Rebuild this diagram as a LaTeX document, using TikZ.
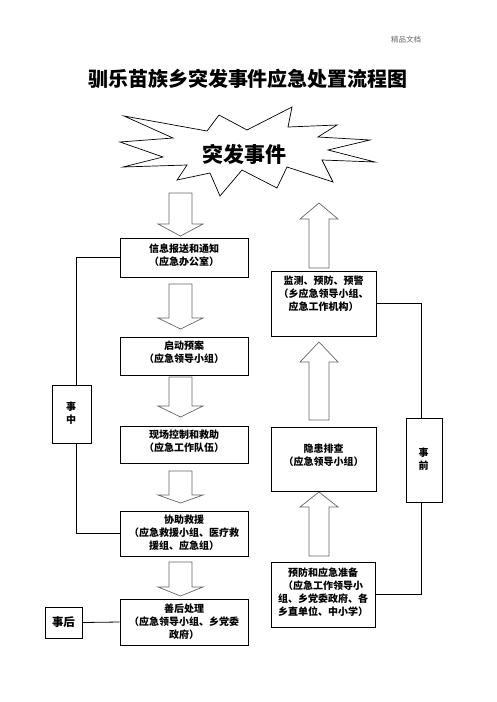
\documentclass[tikz,border=0pt]{standalone}
\usepackage{fontspec}
\newfontfamily\cjk{Noto Sans CJK SC}
\newcommand\dnarr[3]{\draw[barrow] (169,#1) -- (192,#1) -- (192,#2) -- (203,#2) -- (180.5,#3) -- (158,#2) -- (169,#2) -- cycle;}
\newcommand\uparr[3]{\draw[barrow] (309,#1) -- (329,#1) -- (329,#2) -- (338,#2) -- (319,#3) -- (300,#2) -- (309,#2) -- cycle;}
\begin{document}
\begin{tikzpicture}[x=1pt,y=-1pt,
  box/.style={draw, line width=0.8pt, inner sep=0pt},
  txt/.style={font=\cjk\bfseries\fontsize{10}{13}\selectfont, align=center, inner sep=0pt},
  barrow/.style={draw=black!60, line width=0.7pt, fill=white},
  conn/.style={draw, line width=0.8pt}]
\useasboundingbox (0,0) rectangle (496,702);
% header and title
\node[font=\cjk\fontsize{7.5}{9}\selectfont, text=black!60, inner sep=0pt] (hdr) at (406,40) {精品文档};
\node[font=\cjk\bfseries\fontsize{20}{24}\selectfont, inner sep=0pt] (title) at (248,79) {驯乐苗族乡突发事件应急处置流程图};
% starburst
\draw[line width=0.7pt, fill=white] (124,116) -- (207,131) -- (219,115) -- (247,130) -- (292,107) -- (288,127) -- (337,125) -- (318,137) -- (370,140) -- (328,150) -- (375,162) -- (322,160) -- (333,182) -- (287,167) -- (277,188) -- (242,170) -- (220,196) -- (210,173) -- (177,180) -- (187,165) -- (123,167) -- (163,157) -- (120,142) -- (173,138) -- cycle;
\node[font=\cjk\bfseries\fontsize{21}{24}\selectfont, inner sep=0pt] (ev) at (244,154) {突发事件};
% left boxes
\node[box, minimum width=128pt, minimum height=39pt] (b1) at (184,257.5) {};
\node[box, minimum width=128pt, minimum height=38pt] (b2) at (184,356) {};
\node[box, minimum width=128pt, minimum height=37pt] (b3) at (184,444.5) {};
\node[box, minimum width=128pt, minimum height=45pt] (b4) at (184,533.5) {};
\node[box, minimum width=128pt, minimum height=46pt] (b5) at (184,622) {};
\node[txt] (t1) at (184,255) {信息报送和通知\\（应急办公室）};
\node[txt] (t2) at (184,352.5) {启动预案\\（应急领导小组）};
\node[txt] (t3) at (184,441.5) {现场控制和救助\\（应急工作队伍）};
\node[txt] (t4) at (184,533) {协助救援\\（应急救援小组、医疗救\\援组、应急组）};
\node[txt] (t5) at (184,622) {善后处理\\（应急领导小组、乡党委\\政府）};
% right boxes
\node[box, minimum width=105pt, minimum height=65pt] (r1) at (323.5,303.5) {};
\node[box, minimum width=105pt, minimum height=64pt] (r2) at (323.5,459) {};
\node[box, minimum width=104pt, minimum height=65pt] (r3) at (323,594.5) {};
\node[txt] (s1) at (323.5,294) {监测、预防、预警\\（乡应急领导小组、\\应急工作机构）};
\node[txt] (s2) at (323.5,455.5) {隐患排查\\（应急领导小组）};
\node[txt] (s3) at (323,592) {预防和应急准备\\（应急工作领导小\\组、乡党委政府、各\\乡直单位、中小学）};
% phase boxes
\node[box, minimum width=39pt, minimum height=58pt] (zz) at (71.5,414) {};
\node[txt] (zzt) at (71,413.5) {事\\中};
\node[box, minimum width=36pt, minimum height=84pt] (sq) at (424,460) {};
\node[txt] (sqt) at (423.5,459.5) {事\\前};
\node[box, minimum width=37pt, minimum height=31pt, font=\cjk\bfseries\fontsize{11.5}{13}\selectfont] (sh) at (63.5,622.5) {事后};
% block arrows
\dnarr{193}{224}{236}
\dnarr{284}{318}{329}
\dnarr{377}{406}{417}
\dnarr{471}{495}{503}
\dnarr{562}{587}{596}
\uparr{268}{219}{203}
\uparr{420}{362}{342}
\uparr{556}{507}{492}
% connector lines
\coordinate (zzn) at (76,385);
\coordinate (zzs) at (76,443);
\coordinate (sqn) at (421,418);
\coordinate (sqs) at (421,502);
\draw[conn] (b1.west) -| (zzn);
\draw[conn] (zzs) |- (b4.west);
\draw[conn] (r1.east) -| (sqn);
\draw[conn] (sqs) |- (r3.east);
\draw[conn] (sh.east) -- (b5.west);
\end{tikzpicture}
\end{document}
